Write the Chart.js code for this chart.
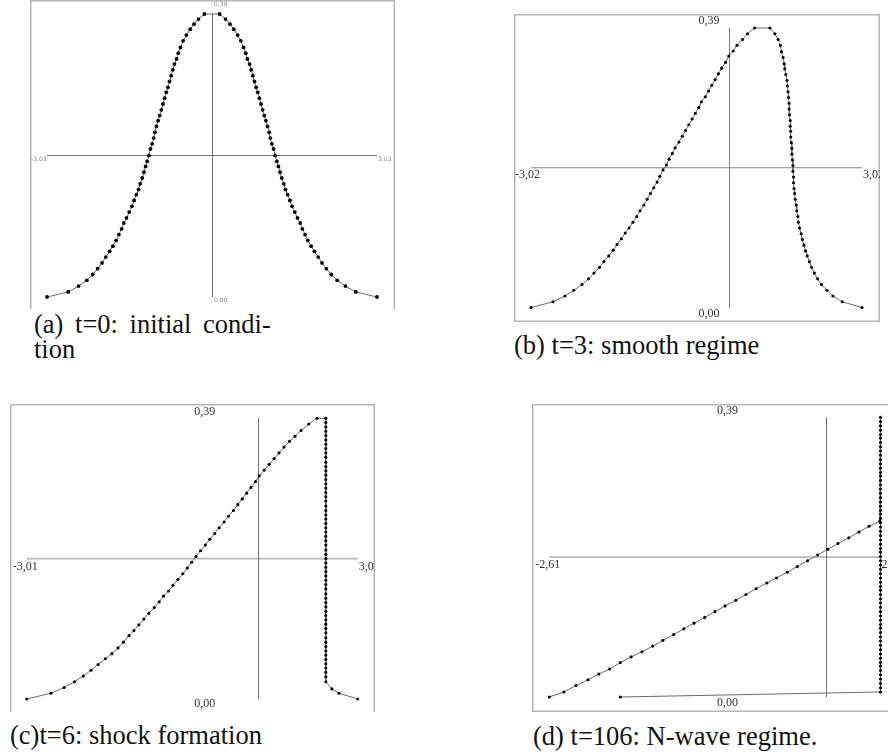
<!DOCTYPE html>
<html>
<head>
<meta charset="utf-8">
<script src="https://cdn.jsdelivr.net/npm/chart.js@4.4.1/dist/chart.umd.min.js"></script>
<style>
  body { margin: 0; background: #fff; width: 888px; height: 755px; position: relative; overflow: hidden; }
  canvas { position: absolute; }
  .cap { position: absolute; font-family: "Liberation Serif", "DejaVu Serif", serif; font-size: 26.5px; line-height: 25px; color: #111; white-space: nowrap; }
</style>
</head>
<body>
<canvas id="chartA" width="365" height="309" style="left:30px;top:0px"></canvas>
<canvas id="chartB" width="366" height="308" style="left:514px;top:14px"></canvas>
<canvas id="chartC" width="365" height="308" style="left:10px;top:404px"></canvas>
<canvas id="chartD" width="356" height="308" style="left:532px;top:404px"></canvas>

<div class="cap" style="left:34px;top:312px"><span style="word-spacing:5px">(a) t=0: initial condi-</span><br>tion</div>
<div class="cap" style="left:514px;top:333px">(b) t=3: smooth regime</div>
<div class="cap" style="left:10px;top:723px">(c)t=6: shock formation</div>
<div class="cap" style="left:533px;top:724px">(d) t=106: N-wave regime.</div>

<script>
// (a) t=0
const aX = [-3.03,-2.64,-2.45,-2.30,-2.19,-2.10,-2.02,-1.95,-1.88,-1.82,-1.76,-1.71,-1.66,-1.62,-1.57,
  -1.52,-1.47,-1.43,-1.39,-1.35,-1.32,-1.28,-1.25,-1.22,-1.19,-1.16,-1.13,-1.10,-1.07,-1.05,-1.02,-0.99,
  -0.96,-0.93,-0.90,-0.87,-0.84,-0.81,-0.78,-0.75,-0.72,-0.69,-0.65,-0.62,-0.58,-0.53,-0.47,-0.40,-0.33,
  -0.25,-0.14,
  0.14,0.25,0.33,0.40,0.47,0.53,0.58,0.62,0.65,0.69,0.72,0.75,0.78,0.81,0.84,0.87,0.90,0.93,0.96,0.99,
  1.02,1.05,1.07,1.10,1.13,1.16,1.19,1.22,1.25,1.28,1.32,1.35,1.39,1.43,1.47,1.52,1.57,1.62,1.66,1.71,
  1.76,1.82,1.88,1.95,2.02,2.10,2.19,2.30,2.45,2.64,3.03];
const aY = [0.000,0.007,0.015,0.023,0.031,0.039,0.047,0.055,0.063,0.070,0.078,0.086,0.094,0.102,0.109,
  0.117,0.125,0.133,0.141,0.148,0.156,0.164,0.172,0.180,0.187,0.195,0.204,0.211,0.219,0.227,0.235,0.243,
  0.250,0.258,0.266,0.274,0.282,0.289,0.297,0.305,0.313,0.321,0.328,0.336,0.344,0.353,0.361,0.369,0.376,
  0.383,0.390,
  0.390,0.383,0.376,0.369,0.361,0.353,0.344,0.336,0.328,0.321,0.313,0.305,0.297,0.289,0.282,0.274,0.266,
  0.258,0.250,0.243,0.235,0.227,0.219,0.211,0.204,0.195,0.187,0.180,0.172,0.164,0.156,0.148,0.141,0.133,
  0.125,0.117,0.109,0.102,0.094,0.086,0.078,0.070,0.063,0.055,0.047,0.039,0.031,0.023,0.015,0.007,0.000];
const labelsA = ['0,39', '0,00', '-3,03', '3,03'];

// (b) t=3
const bX = [-3.02,-2.62,-2.40,-2.24,-2.09,-1.97,-1.87,-1.77,-1.69,-1.60,-1.52,-1.45,-1.37,-1.30,-1.23,
  -1.16,-1.09,-1.03,-0.96,-0.90,-0.84,-0.78,-0.72,-0.67,-0.61,-0.55,-0.50,-0.44,-0.39,-0.32,-0.26,-0.20,
  -0.14,-0.08,-0.02,0.04,0.09,0.16,0.22,0.28,0.34,0.40,0.46,0.53,0.59,0.67,0.74,0.84,0.93,1.06,
  1.34,1.43,1.49,1.53,1.55,1.58,1.60,1.61,1.63,1.65,1.66,1.67,1.68,1.69,1.69,1.70,1.71,1.71,1.72,1.72,
  1.73,1.74,1.74,1.75,1.76,1.76,1.77,1.77,1.78,1.79,1.80,1.82,1.83,1.85,1.86,1.88,1.91,1.93,1.96,1.99,
  2.02,2.06,2.10,2.15,2.21,2.28,2.38,2.49,2.66,3.02];
const bY = [0.000,0.008,0.016,0.024,0.032,0.040,0.048,0.056,0.064,0.072,0.080,0.088,0.096,0.104,0.111,
  0.119,0.127,0.135,0.143,0.151,0.159,0.167,0.175,0.183,0.192,0.199,0.207,0.215,0.223,0.231,0.239,0.247,
  0.255,0.263,0.271,0.279,0.287,0.294,0.302,0.310,0.318,0.326,0.334,0.342,0.351,0.358,0.366,0.374,0.382,0.390,
  0.390,0.382,0.374,0.366,0.357,0.349,0.340,0.333,0.325,0.317,0.309,0.301,0.293,0.285,0.277,0.269,0.261,
  0.253,0.246,0.238,0.230,0.222,0.214,0.206,0.198,0.190,0.182,0.174,0.166,0.159,0.151,0.143,0.135,0.127,
  0.119,0.111,0.103,0.095,0.087,0.079,0.072,0.064,0.056,0.048,0.040,0.032,0.024,0.016,0.008,0.000];
const labelsB = ['0,39', '0,00', '-3,02', '3,02'];

// (c) t=6
const cRiseX = [-3.01,-2.57,-2.33,-2.14,-1.98,-1.84,-1.71,-1.58,-1.46,-1.35,-1.25,-1.15,-1.06,-0.97,-0.88,
  -0.79,-0.69,-0.60,-0.52,-0.43,-0.35,-0.26,-0.17,-0.09,-0.01,0.07,0.15,0.24,0.32,0.41,0.49,0.58,0.66,
  0.75,0.83,0.91,0.99,1.07,1.15,1.22,1.31,1.40,1.49,1.58,1.67,1.77,1.87,1.98,2.12,2.27];
const cRiseY = [0.000,0.008,0.016,0.024,0.032,0.040,0.048,0.056,0.063,0.071,0.079,0.088,0.095,0.103,0.111,
  0.119,0.127,0.135,0.143,0.150,0.158,0.166,0.174,0.182,0.190,0.198,0.206,0.214,0.222,0.230,0.238,0.246,
  0.254,0.262,0.270,0.278,0.286,0.294,0.302,0.310,0.318,0.326,0.334,0.342,0.350,0.358,0.365,0.373,0.382,0.390];
const cShockX = 2.43;
const cShockY = [0.390,0.384,0.378,0.372,0.366,0.360,0.354,0.348,0.342,0.336,0.329,0.323,0.317,0.311,0.305,
  0.299,0.293,0.287,0.281,0.275,0.268,0.262,0.256,0.250,0.244,0.238,0.232,0.226,0.220,0.214,0.207,0.201,
  0.195,0.189,0.183,0.177,0.171,0.165,0.159,0.153,0.146,0.140,0.134,0.128,0.122,0.116,0.110,0.104,0.098,
  0.092,0.085,0.079,0.073,0.067,0.061,0.055,0.049,0.043,0.037,0.031,0.024];
const cTailX = [2.54, 2.67, 3.01];
const cTailY = [0.014, 0.008, 0.000];
const labelsC = ['0,39', '0,00', '-3,01', '3,01'];

// (d) t=106
const dRampX = [-2.61,-2.38,-2.19,-2.00,-1.83,-1.66,-1.49,-1.32,-1.15,-0.98,-0.82,-0.65,-0.49,-0.33,-0.16,
  0.00,0.16,0.33,0.49,0.65,0.82,0.97,1.14,1.30,1.46,1.62,1.78,1.94,2.11,2.27,2.43,2.60];
const dRampY = [0.000,0.007,0.016,0.024,0.032,0.039,0.048,0.056,0.063,0.071,0.079,0.087,0.095,0.103,0.111,
  0.119,0.127,0.135,0.143,0.151,0.159,0.166,0.174,0.182,0.190,0.198,0.206,0.214,0.222,0.230,0.238,0.245];
const dShockX = 2.61;
const dShockY = [0.390,0.384,0.378,0.372,0.366,0.361,0.355,0.349,0.343,0.337,0.331,0.325,0.319,0.313,0.308,
  0.302,0.296,0.290,0.284,0.278,0.272,0.266,0.260,0.255,0.249,0.243,0.237,0.231,0.225,0.219,0.213,0.207,
  0.202,0.196,0.190,0.184,0.178,0.172,0.166,0.160,0.154,0.149,0.143,0.137,0.131,0.125,0.119,0.113,0.107,
  0.101,0.096,0.090,0.084,0.078,0.072,0.066,0.060,0.054,0.048,0.043,0.037,0.031,0.025,0.019,0.013,0.007];
const dTailX = [-1.49];
const dTailY = [0.000];
const labelsD = ['0,39', '0,00', '-2,61', '2,61'];

const pts = (xs, ys) => xs.map((x, i) => ({ x: x, y: ys[i] }));
const column = (x0, ys) => ys.map(y => ({ x: x0, y: y }));

// frame, cross axes and the four end labels
const crossAxes = {
  id: 'crossAxes',
  beforeDatasetsDraw(chart, args, o) {
    const { ctx, chartArea: area, scales: { x, y } } = chart;
    const w = chart.width, h = chart.height;
    ctx.save();
    ctx.strokeStyle = '#b5b5b5';
    ctx.lineWidth = 1.5;
    ctx.beginPath();
    if (o.frame.includes('t')) { ctx.moveTo(0, 0.75); ctx.lineTo(w, 0.75); }
    if (o.frame.includes('b')) { ctx.moveTo(0, h - 0.75); ctx.lineTo(w, h - 0.75); }
    if (o.frame.includes('l')) { ctx.moveTo(0.75, 0); ctx.lineTo(0.75, h); }
    if (o.frame.includes('r')) { ctx.moveTo(w - 0.75, 0); ctx.lineTo(w - 0.75, h); }
    ctx.stroke();

    const yMid = y.getPixelForValue(o.midY);
    ctx.strokeStyle = o.hColor;
    ctx.lineWidth = o.hWidth;
    ctx.beginPath();
    ctx.moveTo(x.getPixelForValue(x.min), yMid);
    ctx.lineTo(x.getPixelForValue(x.max), yMid);
    ctx.stroke();

    const xv = Math.round(x.getPixelForValue(o.axisX)) + 0.5;
    ctx.strokeStyle = o.vColor;
    ctx.lineWidth = 1;
    ctx.beginPath();
    ctx.moveTo(xv, y.getPixelForValue(y.max));
    ctx.lineTo(xv, y.getPixelForValue(y.min));
    ctx.stroke();

    ctx.fillStyle = o.textColor;
    ctx.font = o.labelFont;
    ctx.textBaseline = 'middle';
    ctx.textAlign = 'left';
    const xc = x.getPixelForValue((x.min + x.max) / 2) + 2;
    ctx.fillText(o.labels[0], xc, area.top + o.topDy);
    ctx.fillText(o.labels[1], xc, area.bottom + o.botDy);
    ctx.fillText(o.labels[2], area.left + o.leftDx, yMid + o.sideDy);
    ctx.fillText(o.labels[3], x.getPixelForValue(x.max) + 1, yMid + o.sideDy);
    ctx.restore();
  }
};

function makeChart(id, data, xMin, xMax, pad, radius, axes) {
  return new Chart(document.getElementById(id), {
    type: 'scatter',
    data: {
      datasets: [{
        data: data,
        showLine: true,
        borderColor: '#6a6a6a',
        borderWidth: 1,
        pointRadius: radius,
        pointBackgroundColor: '#000',
        pointBorderColor: '#000',
        pointBorderWidth: 0,
        pointHoverRadius: radius,
        clip: false
      }]
    },
    options: {
      responsive: false,
      animation: false,
      events: [],
      layout: { padding: pad },
      scales: {
        x: { type: 'linear', display: false, min: xMin, max: xMax },
        y: { type: 'linear', display: false, min: 0, max: 0.39 }
      },
      plugins: {
        legend: { display: false },
        tooltip: { enabled: false },
        crossAxes: axes
      }
    },
    plugins: [crossAxes]
  });
}

const serif = '12px "Liberation Serif", "DejaVu Serif", serif';

makeChart('chartA', pts(aX, aY), -3.03, 3.03,
  { left: 17, right: 18, top: 14, bottom: 12 }, 1.9,
  { frame: 'tlr', midY: 0.195, axisX: 0, hColor: '#707070', hWidth: 1, vColor: '#707070',
    labels: labelsA, labelFont: '6px "DejaVu Sans", sans-serif', textColor: '#888',
    topDy: -10, botDy: 3, leftDx: -16, sideDy: 3.5 });

makeChart('chartB', pts(bX, bY), -3.02, 3.02,
  { left: 17, right: 18, top: 14, bottom: 14.5 }, 1.55,
  { frame: 'tblr', midY: 0.195, axisX: 0.59, hColor: '#808080', hWidth: 1, vColor: '#808080',
    labels: labelsB, labelFont: serif, textColor: '#333',
    topDy: -7.5, botDy: 6.5, leftDx: -16, sideDy: 7.5 });

makeChart('chartC', pts(cRiseX, cRiseY).concat(column(cShockX, cShockY), pts(cTailX, cTailY)), -3.01, 3.01,
  { left: 16.7, right: 17.3, top: 14.3, bottom: 13 }, 1.55,
  { frame: 'tlr', midY: 0.195, axisX: 1.20, hColor: '#b8b8b8', hWidth: 1.8, vColor: '#707070',
    labels: labelsC, labelFont: serif, textColor: '#333',
    topDy: -6.6, botDy: 5.3, leftDx: -14, sideDy: 7.7 });

makeChart('chartD', pts(dRampX, dRampY).concat(column(dShockX, dShockY), pts(dTailX, dTailY)), -2.61, 2.61,
  { left: 17.3, right: 7.5, top: 13.3, bottom: 15 }, 1.55,
  { frame: 'tbl', midY: 0.195, axisX: 1.75, hColor: '#b8b8b8', hWidth: 1.8, vColor: '#707070',
    labels: labelsD, labelFont: serif, textColor: '#333',
    topDy: -6.3, botDy: 6.3, leftDx: -14, sideDy: 7.7 });
</script>
</body>
</html>
